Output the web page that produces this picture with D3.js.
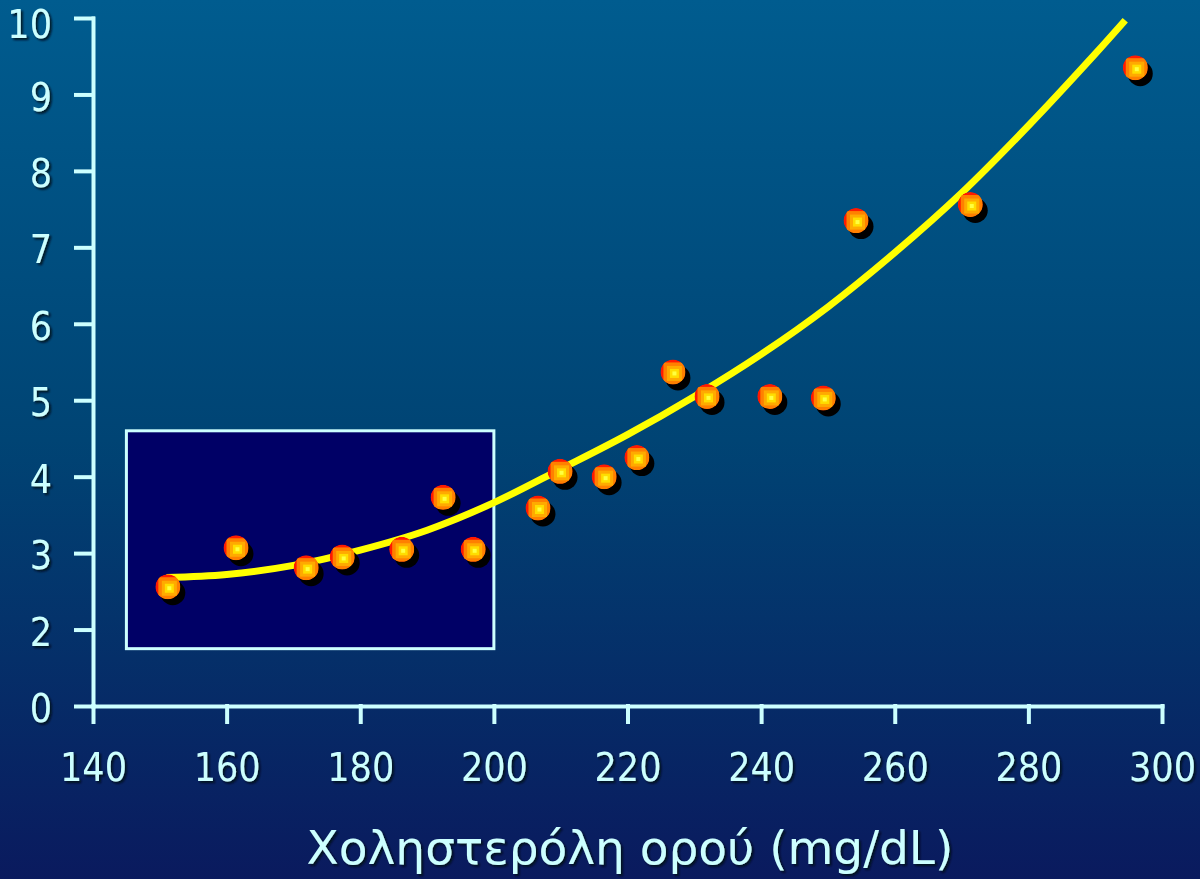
<!DOCTYPE html>
<html>
<head>
<meta charset="utf-8">
<script src="https://cdn.jsdelivr.net/npm/d3@7"></script>
<style>
  html, body { margin: 0; padding: 0; background: #003060; }
  svg { display: block; }
</style>
</head>
<body>
<div id="chart"></div>
<script>
// cholesterol (mg/dL) vs risk
const cholesterol = [151.2, 161.4, 171.9, 177.3, 186.2, 192.4, 196.9, 206.6, 209.9, 216.5,
                     221.4, 226.8, 231.9, 241.3, 249.3, 254.2, 271.3, 296.0];
const risk        = [2.56, 3.07, 2.81, 2.95, 3.05, 3.73, 3.05, 3.59, 4.07, 4.00,
                     4.25, 5.37, 5.05, 5.05, 5.03, 7.35, 7.56, 9.35];

// fitted curve, points
const curveX = [151, 160, 170, 180, 190, 200, 210, 220, 230, 240, 250, 260, 270, 280, 290, 294.5];
const curveY = [2.68, 2.72, 2.84, 3.04, 3.30, 3.66, 4.10, 4.55, 5.05, 5.60, 6.22, 6.93, 7.71, 8.59, 9.53, 9.97];

// highlighted region
const boxX = [145, 200];
const boxY = [1.75, 4.6];

// axis ticks (y axis is broken: the "0" sits one step below 2)
const xTicks = [140, 160, 180, 200, 220, 240, 260, 280, 300];
const yTicks = [1, 2, 3, 4, 5, 6, 7, 8, 9, 10];
const yTickLabels = ["0", "2", "3", "4", "5", "6", "7", "8", "9", "10"];
const xTitle = "Χοληστερόλη ορού (mg/dL)";

const width = 1200, height = 879;
const axisColor = "#ccffff";
const fontFam = "'DejaVu Sans Condensed', 'DejaVu Sans', sans-serif";

const svg = d3.select("#chart").append("svg")
  .attr("width", width)
  .attr("height", height);

const defs = svg.append("defs");
const grad = defs.append("linearGradient")
  .attr("id", "bg").attr("x1", 0).attr("y1", 0).attr("x2", 0).attr("y2", 1);
grad.append("stop").attr("offset", "0%").attr("stop-color", "#005c8f");
grad.append("stop").attr("offset", "50%").attr("stop-color", "#004474");
grad.append("stop").attr("offset", "100%").attr("stop-color", "#0a1a5e");

const shadow = defs.append("filter").attr("id", "txtShadow")
  .attr("x", "-20%").attr("y", "-20%").attr("width", "140%").attr("height", "140%");
shadow.append("feDropShadow")
  .attr("dx", 2).attr("dy", 2).attr("stdDeviation", 0.8)
  .attr("flood-color", "#000814").attr("flood-opacity", 0.9);

const markerR = 12.5;
defs.append("clipPath").attr("id", "dotClip")
  .append("circle").attr("r", markerR);

svg.append("rect")
  .attr("width", width).attr("height", height)
  .attr("fill", "url(#bg)");

const x = d3.scaleLinear().domain([140, 300]).range([93, 1162]);
const y = d3.scaleLinear().domain([1, 10]).range([706, 18]);

// highlighted box
svg.append("rect")
  .attr("x", x(boxX[0]))
  .attr("y", y(boxY[1]))
  .attr("width", x(boxX[1]) - x(boxX[0]))
  .attr("height", y(boxY[0]) - y(boxY[1]))
  .attr("fill", "#000066")
  .attr("stroke", axisColor)
  .attr("stroke-width", 3);

// axes
const yAxis = svg.append("g")
  .attr("transform", `translate(${x(140)},0)`)
  .call(d3.axisLeft(y)
    .tickValues(yTicks)
    .tickFormat((d, i) => yTickLabels[i])
    .tickSize(17)
    .tickSizeOuter(0)
    .tickPadding(24));

const xAxis = svg.append("g")
  .attr("transform", `translate(0,${y(1)})`)
  .call(d3.axisBottom(x)
    .tickValues(xTicks)
    .tickFormat(d3.format("d"))
    .tickSize(16)
    .tickSizeOuter(0)
    .tickPadding(31));

[xAxis, yAxis].forEach(g => {
  g.select(".domain").attr("stroke", axisColor).attr("stroke-width", 4);
  g.selectAll(".tick line").attr("stroke", axisColor).attr("stroke-width", 4);
  g.selectAll(".tick text")
    .attr("fill", axisColor)
    .attr("font-family", fontFam)
    .attr("font-size", 39)
    .attr("filter", "url(#txtShadow)");
});
// top label sits a little lower so it stays inside the slide
yAxis.selectAll(".tick text").attr("dy", d => d === 10 ? "0.49em" : "0.4em");
xAxis.attr("stroke-linecap", "square");
yAxis.attr("stroke-linecap", "square");

// axis title
svg.append("text")
  .attr("x", 630)
  .attr("y", 864)
  .attr("text-anchor", "middle")
  .attr("fill", axisColor)
  .attr("font-family", "'DejaVu Sans', sans-serif")
  .attr("font-size", 47)
  .attr("filter", "url(#txtShadow)")
  .text(xTitle);

// fitted curve
const line = d3.line()
  .x(d => x(d[0]))
  .y(d => y(d[1]))
  .curve(d3.curveCatmullRom);

svg.append("path")
  .datum(d3.zip(curveX, curveY))
  .attr("d", line)
  .attr("fill", "none")
  .attr("stroke", "#ffff00")
  .attr("stroke-width", 7);

// points
const pts = d3.zip(cholesterol, risk);

svg.append("g").selectAll("circle")
  .data(pts)
  .enter()
  .append("circle")
  .attr("cx", d => x(d[0]) + 5)
  .attr("cy", d => y(d[1]) + 6)
  .attr("r", markerR)
  .attr("fill", "#000000");

const dots = svg.append("g").selectAll("g")
  .data(pts)
  .enter()
  .append("g")
  .attr("transform", d => `translate(${x(d[0])},${y(d[1])})`)
  .append("g")
  .attr("clip-path", "url(#dotClip)");

dots.append("circle").attr("r", markerR).attr("fill", "#ff1a00");
const squares = [[22, "#ff8000"], [15, "#ffaa00"], [9, "#ffdd00"], [4, "#ffff40"]];
squares.forEach(s => {
  dots.append("rect")
    .attr("x", 1.5 - s[0] / 2)
    .attr("y", 1.5 - s[0] / 2)
    .attr("width", s[0])
    .attr("height", s[0])
    .attr("fill", s[1]);
});
</script>
</body>
</html>
